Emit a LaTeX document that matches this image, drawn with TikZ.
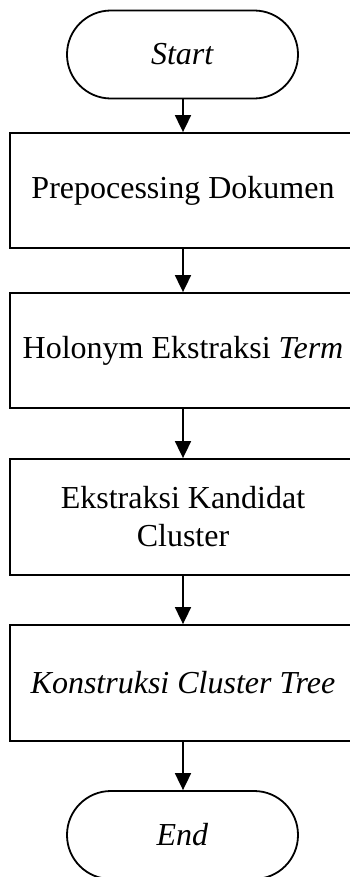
\documentclass[tikz,border=0pt]{standalone}
\usepackage{fontspec}
\setmainfont{Liberation Serif}
\usetikzlibrary{arrows.meta}
\begin{document}
\begin{tikzpicture}[x=1pt,y=1pt,
  every node/.style={font=\fontsize{32}{38}\selectfont, line width=1.8pt, inner sep=0pt},
  term/.style={draw, rectangle, rounded corners=43.9pt, minimum width=231pt, minimum height=88pt},
  procbox/.style={draw, rectangle, minimum width=346pt, minimum height=115pt, align=center},
  flow/.style={line width=1.8pt, -{Triangle[length=17pt,width=16pt]}}]
\useasboundingbox (0,0) rectangle (350,-877);
\clip (0,0) rectangle (350,-877);
\node[term] (start) at (182.5,-54.5) {\textit{Start}};
\node[procbox] (p1) at (183,-190.5) {Prepocessing Dokumen};
\node[procbox] (p2) at (183,-350.5) {Holonym Ekstraksi \textit{Term}};
\node[procbox, minimum height=116pt] (p3) at (183,-517) {Ekstraksi Kandidat\\Cluster};
\node[procbox, minimum height=116pt] (p4) at (183,-683) {\textit{Konstruksi Cluster Tree}};
\node[term] (end) at (182.5,-835) {\textit{End}};
\draw[flow] (start.south -| p1.north) -- (p1.north);
\draw[flow] (p1) -- (p2);
\draw[flow] (p2) -- (p3);
\draw[flow] (p3) -- (p4);
\draw[flow] (p4.south) -- (end.north -| p4.south);
\end{tikzpicture}
\end{document}
